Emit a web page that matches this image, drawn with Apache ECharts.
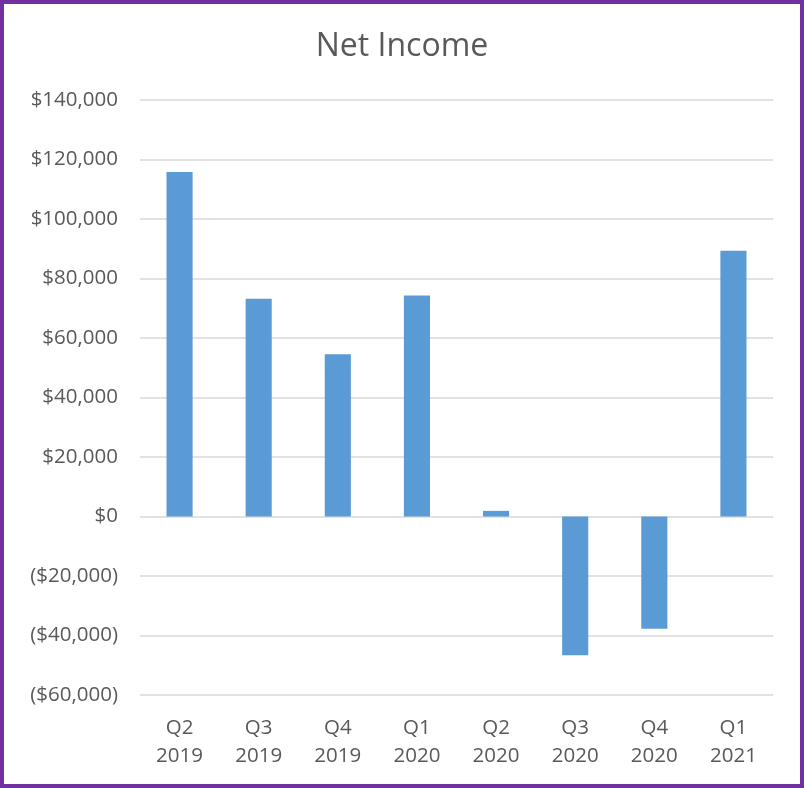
<!DOCTYPE html>
<html>
<head>
    <meta charset="utf-8">
    <title>Net Income</title>
    <style>
        html,body{
            width:100%;
            height:100%;
            overflow:hidden;
            padding:0;
            margin:0;
            background:#fff;
        }
        #main{
            box-sizing:border-box;
            width:804px;height:788px;
            border:4px solid #7030A0;
        }
    </style>
    <script src="https://cdn.jsdelivr.net/npm/echarts@6/dist/echarts.min.js"></script>
</head>
<body>
<div id="main"></div>

<script type="text/javascript">
    // quarters and net income values
    var quarters = ['Q2\n2019', 'Q3\n2019', 'Q4\n2019', 'Q1\n2020', 'Q2\n2020', 'Q3\n2020', 'Q4\n2020', 'Q1\n2021'];
    var netIncome = [115800, 73200, 54500, 74300, 1900, -46600, -37700, 89300];

    var yMin = -60000, yMax = 140000, yStep = 20000;

    var myChart = echarts.init(document.getElementById('main'));

    function money(v) {
        var s = '$' + Math.abs(v).toLocaleString('en-US');
        return v < 0 ? '(' + s + ')' : s;
    }

    var textColor = '#595959';
    var font = 'Open Sans';

    myChart.setOption({
        animation: false,
        title: {
            text: 'Net Income',
            left: 'center',
            top: 22,
            textStyle: {color: textColor, fontSize: 32, fontWeight: 'normal', fontFamily: font}
        },
        grid: {left: 136, right: 27, top: 96, bottom: 89},
        xAxis: {
            type: 'category',
            data: quarters,
            axisLine: {show: false, onZero: false},
            axisTick: {show: false},
            axisLabel: {
                color: textColor, fontSize: 20.5, fontFamily: font,
                lineHeight: 28, margin: 19
            }
        },
        yAxis: {
            type: 'value',
            min: yMin, max: yMax, interval: yStep,
            axisLine: {show: false},
            axisTick: {show: false},
            splitLine: {lineStyle: {color: '#d9d9d9', width: 1.5}},
            axisLabel: {
                color: textColor, fontSize: 20.5, fontFamily: font, margin: 22,
                formatter: money
            }
        },
        series: [{
            type: 'bar',
            data: netIncome,
            barWidth: '33%',
            itemStyle: {color: '#5B9BD5'}
        }]
    });
</script>
</body>
</html>
